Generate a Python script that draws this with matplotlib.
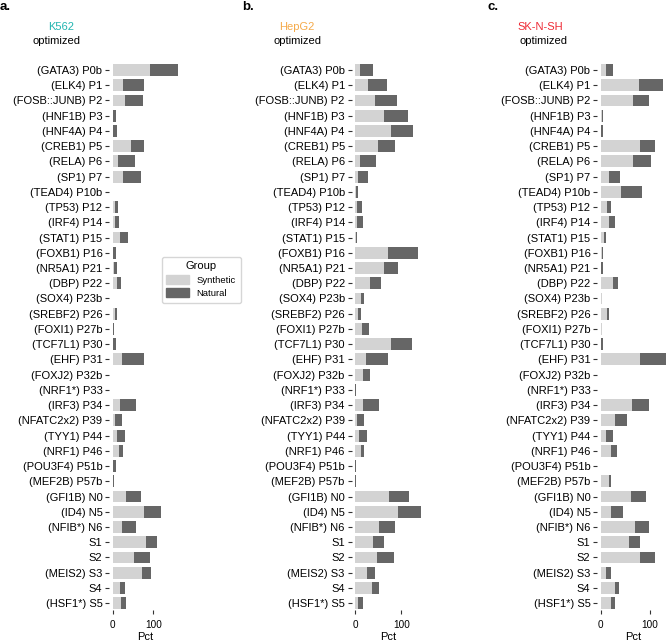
import matplotlib
matplotlib.use("Agg")
import matplotlib.pyplot as plt
import numpy as np
from matplotlib.patches import Patch

plt.rcParams['font.family'] = ['Liberation Sans', 'DejaVu Sans']

labels = ["(GATA3) P0b", "(ELK4) P1", "(FOSB::JUNB) P2", "(HNF1B) P3", "(HNF4A) P4",
          "(CREB1) P5", "(RELA) P6", "(SP1) P7", "(TEAD4) P10b", "(TP53) P12",
          "(IRF4) P14", "(STAT1) P15", "(FOXB1) P16", "(NR5A1) P21", "(DBP) P22",
          "(SOX4) P23b", "(SREBF2) P26", "(FOXI1) P27b", "(TCF7L1) P30", "(EHF) P31",
          "(FOXJ2) P32b", "(NRF1*) P33", "(IRF3) P34", "(NFATC2x2) P39", "(TYY1) P44",
          "(NRF1) P46", "(POU3F4) P51b", "(MEF2B) P57b", "(GFI1B) N0", "(ID4) N5",
          "(NFIB*) N6", "S1", "S2", "(MEIS2) S3", "S4", "(HSF1*) S5"]

# K562
k562_syn = [92, 26, 30, 2, 2, 45, 12, 26, 0, 5, 6, 18, 2, 3, 10, 0, 6, 0,
            1, 24, 0, 0, 18, 5, 11, 16, 1, 0, 34, 76, 24, 81, 53, 71, 19, 21]
k562_nat = [69, 50, 45, 5, 8, 31, 43, 43, 2, 9, 10, 20, 5, 8, 11, 2, 5, 3,
            7, 54, 2, 1, 39, 19, 20, 9, 8, 4, 35, 44, 33, 27, 39, 24, 12, 13]
# HepG2
hepg2_syn = [11, 27, 44, 62, 78, 50, 11, 6, 2, 5, 4, 1, 72, 63, 33, 12, 6, 14,
             77, 24, 17, 0, 18, 4, 8, 12, 0, 0, 74, 92, 51, 38, 48, 25, 36, 7]
hepg2_nat = [27, 42, 47, 52, 47, 35, 34, 21, 4, 9, 12, 3, 63, 30, 23, 8, 6, 16,
             46, 48, 16, 1, 33, 16, 17, 7, 2, 2, 42, 49, 35, 24, 35, 19, 15, 11]
# SK-N-SH
sknsh_syn = [10, 77, 65, 2, 1, 79, 65, 16, 42, 12, 16, 7, 2, 1, 26, 2, 12, 2,
             1, 80, 1, 1, 63, 30, 10, 22, 1, 17, 61, 21, 69, 58, 79, 10, 29, 22]
sknsh_nat = [16, 50, 34, 3, 4, 31, 38, 23, 42, 8, 14, 4, 3, 4, 10, 1, 5, 1,
             4, 53, 0, 0, 36, 23, 15, 11, 0, 5, 31, 24, 30, 21, 31, 12, 9, 8]

panels = [
    ("a.", "K562", "#22b5b0", k562_syn, k562_nat),
    ("b.", "HepG2", "#f5aa4a", hepg2_syn, hepg2_nat),
    ("c.", "SK-N-SH", "#ee2a35", sknsh_syn, sknsh_nat),
]

W, H = 666, 642
fig = plt.figure(figsize=(W / 100, H / 100), dpi=100)

ax_left = [109.4, 351.8, 597.4]
ax_w = 72
ax_top, ax_bot = 61.6, 610
letter_x = [0, 242, 488]
cell_x = [[61, 56], [297, 297], [540, 543]]

syn_col = "#d3d3d3"
nat_col = "#666666"

y = np.arange(len(labels))
for i, (letter, cell, ccol, syn, nat) in enumerate(panels):
    syn = np.array(syn)
    nat = np.array(nat)
    ax = fig.add_axes([ax_left[i] / W, 1 - ax_bot / H, ax_w / W, (ax_bot - ax_top) / H])
    ax.barh(y, syn, height=0.78, color=syn_col)
    ax.barh(y, nat, left=syn, height=0.78, color=nat_col)
    m = (syn + nat).max()
    ax.set_xlim(-0.05 * m, 1.05 * m)
    ax.set_ylim(len(labels) - 0.55, -0.55)
    ax.set_yticks(y)
    ax.set_yticklabels(labels, fontsize=8)
    ax.set_xticks([0, 100])
    ax.tick_params(axis='x', labelsize=7.2, length=3, color="#333333", pad=4)
    ax.tick_params(axis='y', length=3, color="#333333", pad=2)
    ax.set_xlabel("Pct", fontsize=8, labelpad=2)
    for s in ax.spines.values():
        s.set_visible(False)

    fig.text(letter_x[i] / W, 1 - 7 / H, letter, fontsize=9.5, fontweight='bold',
             ha='left', va='center')
    fig.text(cell_x[i][0] / W, 1 - 27 / H, cell, fontsize=8, color=ccol,
             ha='center', va='center')
    fig.text(cell_x[i][1] / W, 1 - 41 / H, "optimized", fontsize=8,
             ha='center', va='center')

handles = [Patch(color=syn_col, label="Synthetic"), Patch(color=nat_col, label="Natural")]
leg = fig.legend(handles=handles, title="Group", fontsize=6.8, title_fontsize=8,
                 loc='upper left', bbox_to_anchor=(157 / W, 1 - 252 / H),
                 frameon=True, fancybox=True, edgecolor="#cccccc",
                 handlelength=2.4, handleheight=1.0, borderpad=0.5, labelspacing=0.4)

fig.savefig("out.png", dpi=100)
